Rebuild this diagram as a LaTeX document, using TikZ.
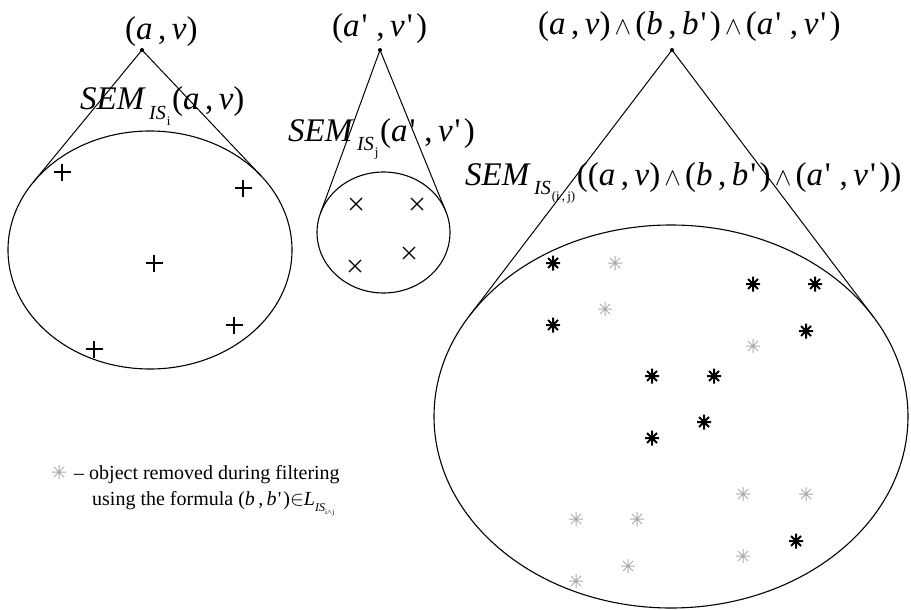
\documentclass[tikz,border=0pt]{standalone}
\usepackage{fontspec}
\setmainfont{Liberation Serif}
\usetikzlibrary{shapes.geometric}
\newcommand{\mi}[1]{\textit{#1}}
\newcommand{\prm}{\kern0.06em\textquotesingle\kern0.1em}
\newcommand{\cmm}{\,,\,}
\newcommand{\wdg}{$\,\wedge\,$}
\newcommand{\SEMsub}[1]{\mi{SEM}\kern0.1em\raisebox{-0.3em}{\fontsize{20}{20}\selectfont\mi{IS}\kern0.05em\raisebox{-0.3em}{\fontsize{13}{13}\selectfont #1}}\kern0.05em}
\newcommand{\conetangents}[7]{%
  \pgfmathsetmacro\tgU{(#5-#1)/#3}%
  \pgfmathsetmacro\tgV{(#6-#2)/#4}%
  \pgfmathsetmacro\tgP{atan2(\tgV,\tgU)}%
  \pgfmathsetmacro\tgD{acos(1/sqrt(\tgU*\tgU+\tgV*\tgV))}%
  \coordinate (#7L) at ({#1+#3*cos(\tgP+\tgD)},{#2+#4*sin(\tgP+\tgD)});%
  \coordinate (#7R) at ({#1+#3*cos(\tgP-\tgD)},{#2+#4*sin(\tgP-\tgD)});%
}
\tikzset{
  lbl/.style={inner sep=0, anchor=base west, font=\fontsize{33}{37}\selectfont},
  legendtext/.style={inner sep=0, anchor=base west, font=\fontsize{20}{24}\selectfont},
  apexdot/.style={circle, fill, inner sep=0, minimum size=4},
  blob/.style={draw, ellipse, inner sep=0, line width=1.1},
  cone/.style={line width=1},
  plusmark/.pic={\draw[line width=1.4] (-8.5,0)--(8.5,0) (0,-8.5)--(0,8.5);},
  crossmark/.pic={\draw[line width=1.3] (-6,-6)--(6,6) (-6,6)--(6,-6);},
  blackstar/.pic={\draw[line width=2, black] (-7,0)--(7,0) (0,-7.5)--(0,7.5) (-5,-5)--(5,5) (-5,5)--(5,-5);},
  graystar/.pic={\draw[line width=1, black!33] (-7,0)--(7,0) (0,-7)--(0,7) (-5,-5)--(5,5) (-5,5)--(5,-5);}
}
\begin{document}
\begin{tikzpicture}[x=1pt,y=-1pt]
\useasboundingbox[fill=white] (0,0) rectangle (911,610);
% left cone
\node[apexdot] (pA) at (142,50) {};
\node[blob, minimum width=284, minimum height=238] (eA) at (150,250) {};
\conetangents{150}{250}{142}{119}{142}{50}{tA}
\draw[cone] (pA.center) -- (tAL);
\draw[cone] (pA.center) -- (tAR);
% middle cone
\node[apexdot] (pB) at (380,50) {};
\node[blob, minimum width=133, minimum height=121] (eB) at (383.5,232.5) {};
\conetangents{383.5}{232.5}{66.5}{60.5}{380}{50}{tB}
\draw[cone] (pB.center) -- (tBL);
\draw[cone] (pB.center) -- (tBR);
% right cone
\node[apexdot] (pC) at (672,50) {};
\node[blob, minimum width=474, minimum height=383] (eC) at (671,416.5) {};
\conetangents{671}{416.5}{237}{191.5}{672}{50}{tC}
\draw[cone] (pC.center) -- (tCL);
\draw[cone] (pC.center) -- (tCR);
% labels
\node[lbl] (lA) at (125,40) {(\mi{a}\cmm\mi{v})};
\node[lbl] (sA) at (80,110) {\SEMsub{i}(\mi{a}\cmm\mi{v})};
\node[lbl] (lB) at (332,37) {(\mi{a}\prm\cmm\mi{v}\prm)};
\node[lbl] (sB) at (288,141) {\SEMsub{j}(\mi{a}\prm\cmm\mi{v}\prm)};
\node[lbl] (lC) at (538,35) {(\mi{a}\cmm\mi{v})\wdg(\mi{b}\cmm\mi{b}\prm)\wdg(\mi{a}\prm\cmm\mi{v}\prm)};
\node[lbl] (sC) at (465,185) {\SEMsub{(i\,,\,j)}((\mi{a}\cmm\mi{v})\wdg(\mi{b}\cmm\mi{b}\prm)\wdg(\mi{a}\prm\cmm\mi{v}\prm))};
% marks left
\pic at (62,172) {plusmark};
\pic at (243,188) {plusmark};
\pic at (154,263) {plusmark};
\pic at (234,325) {plusmark};
\pic at (94,349) {plusmark};
% marks middle
\pic at (356,204) {crossmark};
\pic at (417,204) {crossmark};
\pic at (409,253) {crossmark};
\pic at (355,266) {crossmark};
% marks right: black
\pic at (553,263) {blackstar};
\pic at (753,284) {blackstar};
\pic at (815,284) {blackstar};
\pic at (553,325) {blackstar};
\pic at (806,331) {blackstar};
\pic at (652,376) {blackstar};
\pic at (714,376) {blackstar};
\pic at (704,422) {blackstar};
\pic at (652,438) {blackstar};
\pic at (796,541) {blackstar};
% marks right: gray
\pic at (615,263) {graystar};
\pic at (605,309) {graystar};
\pic at (753,346) {graystar};
\pic at (743,494) {graystar};
\pic at (806,494) {graystar};
\pic at (576,519) {graystar};
\pic at (637,519) {graystar};
\pic at (743,556) {graystar};
\pic at (628,566) {graystar};
\pic at (576,581) {graystar};
% legend
\pic at (59,472) {graystar};
\node[legendtext] (lg1) at (74,479) {– object removed during filtering};
\node[legendtext] (lg2) at (92,505) {using the formula (\mi{b}\cmm\mi{b}\prm)$\in$\mi{L}\raisebox{-0.3em}{\fontsize{12}{12}\selectfont\mi{IS}\raisebox{-0.3em}{\fontsize{7}{7}\selectfont i$\wedge$j}}};
\end{tikzpicture}
\end{document}
